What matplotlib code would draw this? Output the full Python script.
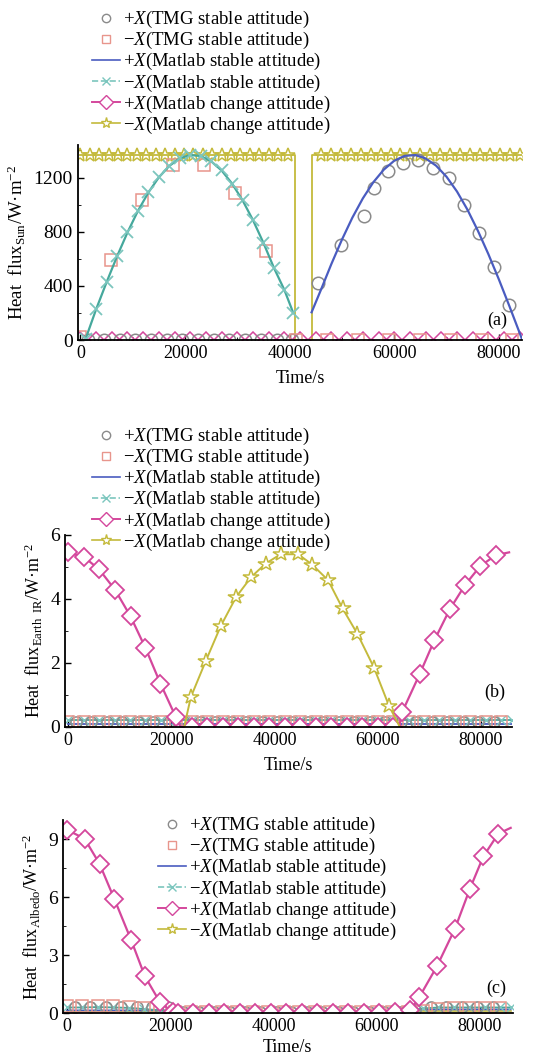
import matplotlib
matplotlib.use('Agg')
import matplotlib.pyplot as plt
from matplotlib.lines import Line2D
from matplotlib.ticker import MultipleLocator

plt.rcParams['font.family'] = ['Liberation Serif', 'DejaVu Serif']
plt.rcParams['mathtext.fontset'] = 'custom'
plt.rcParams['mathtext.rm'] = 'Liberation Serif'
plt.rcParams['mathtext.it'] = 'Liberation Serif:italic'

# colours
c_circ = '#8a8a8a'
c_sq = '#e8958c'
c_blue = '#4a5cc0'
c_cyan = '#45a89c'
c_xmark = '#7cc6be'
c_mag = '#d4479c'
c_yel = '#c4ba3c'

labels = ['+$X$(TMG stable attitude)', '\u2212$X$(TMG stable attitude)',
          '+$X$(Matlab stable attitude)', '\u2212$X$(Matlab stable attitude)',
          '+$X$(Matlab change attitude)', '\u2212$X$(Matlab change attitude)']

# ---------------- (a) Sun ----------------
circ_a_t = [1500, 4500, 7500, 10500, 13500, 16500, 19500, 22500, 25500, 28500, 31500, 34500, 37500, 40500,
            45500, 49900, 54200, 56100, 58800, 61700, 64500, 67400, 70500, 73400, 76200, 79100, 81900]
circ_a_v = [0, 0, 0, 0, 0, 0, 0, 0, 0, 0, 0, 0, 0, 0,
            424, 704, 913, 1124, 1247, 1309, 1333, 1272, 1198, 1000, 790, 543, 259]
sq_a_t = [0, 5900, 11800, 17700, 23600, 29500, 35400, 41300, 47200, 53100, 59000, 64900, 70800, 76700, 82600]
sq_a_v = [24, 593, 1037, 1296, 1296, 1087, 654, 0, 0, 0, 0, 0, 0, 0, 0]
blue_a_t = [44200, 46000, 48000, 50000, 52000, 54000, 56000, 58000, 60000, 62000, 64000, 66000, 68000,
            70000, 72000, 74000, 76000, 78000, 80000, 82000, 84000, 84500]
blue_a_v = [205, 372, 563, 741, 904, 1046, 1165, 1258, 1324, 1360, 1366, 1341, 1288,
            1206, 1097, 963, 807, 635, 449, 253, 51, 0]
cyan_a_t = [1000, 3000, 5000, 7000, 9000, 11000, 13000, 15000, 17000, 19000, 21000, 23000, 25000,
            27000, 29000, 31000, 33000, 35000, 37000, 39000, 40700]
cyan_a_v = [10, 227, 427, 618, 795, 954, 1090, 1202, 1286, 1342, 1366, 1359, 1320,
            1252, 1155, 1032, 885, 717, 533, 370, 200]
mag_a_t = [0, 3000, 6000, 9000, 12000, 15000, 18000, 21000, 24000, 27000, 30000, 33000, 36000, 39000,
           42000, 45000, 48000, 51000, 54000, 57000, 60000, 63000, 66000, 69000, 72000, 75000, 78000, 81000, 84000]
mag_a_v = [5] * len(mag_a_t)
yel_a_line_t = [0, 41000, 41000, 44200, 44200, 86000]
yel_a_line_v = [1367, 1367, 0, 0, 1367, 1367]
star_a_t = [0, 1800, 3600, 5400, 7200, 9000, 10800, 12600, 14400, 16200, 18000, 19800, 21600, 23400,
            25200, 27000, 28800, 30600, 32400, 34200, 36000, 37800, 39600,
            46000, 47900, 49800, 51700, 53600, 55500, 57400, 59300, 61200, 63100, 65000, 66900, 68800,
            70700, 72600, 74500, 76400, 78300, 80200, 82100, 84000]
star_a_v = [1367] * len(star_a_t)

# ---------------- (b) Earth IR ----------------
circ_b_t = [1500, 4500, 7500, 10500, 13500, 16500, 19500, 22500, 25500, 28500, 31500, 34500, 37500, 40500,
            43500, 46500, 49500, 52500, 55500, 58500, 61500, 64500, 67500, 70500, 73500, 76500, 79500, 82500]
circ_b_v = [0.15] * len(circ_b_t)
sq_b_t = [0, 3000, 6000, 9000, 12000, 15000, 18000, 21000, 24000, 27000, 30000, 33000, 36000, 39000,
          42000, 45000, 48000, 51000, 54000, 57000, 60000, 63000, 66000, 69000, 72000, 75000, 78000, 81000, 84000]
sq_b_v = [0.16] * len(sq_b_t)
blue_b_t = [0, 86000]
blue_b_v = [0.10, 0.10]
cyan_b_t = [0, 3000, 6000, 9000, 12000, 15000, 18000, 21000, 24000, 27000, 30000, 33000, 36000, 39000,
            42000, 45000, 48000, 51000, 54000, 57000, 60000, 63000, 66000, 69000, 72000, 75000, 78000, 81000, 84000, 86000]
cyan_b_v = [0.20] * len(cyan_b_t)
mag_b_t = [0, 3100, 6000, 9100, 12100, 15000, 17900, 20900, 21800, 24000, 27000, 30000, 33000, 36000,
           39000, 42000, 45000, 48000, 51000, 54000, 57000, 60000, 63000, 64200, 64800, 68200, 71000,
           74000, 77000, 79900, 82900, 85500]
mag_b_v = [5.45, 5.30, 4.92, 4.28, 3.45, 2.46, 1.35, 0.30, 0.0, 0.0, 0.0, 0.0, 0.0, 0.0,
           0.0, 0.0, 0.0, 0.0, 0.0, 0.0, 0.0, 0.0, 0.0, 0.0, 0.47, 1.66, 2.70,
           3.67, 4.44, 5.02, 5.36, 5.45]
yel_b_t = [22500, 23800, 26700, 29600, 32600, 35500, 38300, 41200, 44600, 47300, 50400, 53200,
           56100, 59300, 62200, 64300]
yel_b_v = [0, 0.93, 2.06, 3.15, 4.06, 4.68, 5.10, 5.39, 5.39, 5.07, 4.58, 3.70, 2.90, 1.85, 0.66, 0]

# ---------------- (c) Albedo ----------------
circ_c_t = circ_b_t
circ_c_v = [0.30, 0.30, 0.30, 0.30, 0.30, 0.30, 0.30, 0.08, 0.08, 0.08, 0.08, 0.08, 0.08, 0.08,
            0.08, 0.08, 0.08, 0.08, 0.08, 0.08, 0.08, 0.08, 0.15, 0.30, 0.30, 0.30, 0.30, 0.30]
sq_c_t = sq_b_t
sq_c_v = [0.35, 0.35, 0.38, 0.35, 0.32, 0.25, 0.15, 0.05, 0.05, 0.05, 0.05, 0.05, 0.05, 0.05,
          0.05, 0.05, 0.05, 0.05, 0.05, 0.05, 0.05, 0.05, 0.05, 0.10, 0.20, 0.25, 0.25, 0.25, 0.25]
blue_c_t = [0, 20000, 22000, 66000, 68000, 86000]
blue_c_v = [0.15, 0.15, 0.05, 0.05, 0.20, 0.20]
cyan_c_t = [0, 3000, 6000, 9000, 12000, 15000, 18000, 21000, 24000, 27000, 30000, 33000, 36000, 39000,
            42000, 45000, 48000, 51000, 54000, 57000, 60000, 63000, 66000, 69000, 72000, 75000, 78000, 81000, 84000, 86000]
cyan_c_v = [0.30, 0.30, 0.32, 0.30, 0.28, 0.22, 0.15, 0.08, 0.08, 0.08, 0.08, 0.08, 0.08, 0.08,
            0.08, 0.08, 0.08, 0.08, 0.08, 0.08, 0.08, 0.08, 0.10, 0.25, 0.30, 0.30, 0.30, 0.30, 0.30, 0.30]
mag_c_t = [0, 3400, 6300, 9200, 12400, 15100, 18000, 20500, 21500, 24500, 27500, 30500, 33500, 36500,
           39500, 42500, 45500, 48500, 51500, 54500, 57500, 60500, 63500, 66500, 68300, 71700,
           75200, 78100, 80700, 83600, 86000]
mag_c_v = [9.5, 9.04, 7.74, 5.9, 3.81, 1.91, 0.58, 0.05, 0.0, 0.0, 0.0, 0.0, 0.0, 0.0,
           0.0, 0.0, 0.0, 0.0, 0.0, 0.0, 0.0, 0.0, 0.05, 0.15, 0.84, 2.43,
           4.38, 6.45, 8.12, 9.3, 9.6]
yel_c_t = [0, 86000]
yel_c_v = [0.12, 0.12]

fig = plt.figure(figsize=(5.33, 10.61), dpi=100)
ax_a = fig.add_axes([0.146, 0.6795, 0.834, 0.1838])
ax_b = fig.add_axes([0.122, 0.315, 0.838, 0.181])
ax_c = fig.add_axes([0.118, 0.045, 0.844, 0.182])

mk = dict(markerfacecolor='none', markeredgewidth=1.1)

# (a)
ax_a.plot(yel_a_line_t, yel_a_line_v, color=c_yel, lw=1.3)
ax_a.plot(star_a_t, star_a_v, ls='none', marker='*', ms=10, color=c_yel, **mk)
ax_a.plot(mag_a_t, mag_a_v, ls='none', marker='D', ms=7, color=c_mag, **mk)
ax_a.plot(circ_a_t, circ_a_v, ls='none', marker='o', ms=9, color=c_circ, **mk)
ax_a.plot(sq_a_t, sq_a_v, ls='none', marker='s', ms=9, color=c_sq, **mk)
ax_a.plot(cyan_a_t, cyan_a_v, color=c_cyan, lw=1.6)
ax_a.plot(cyan_a_t, cyan_a_v, ls='none', marker='x', ms=8, color=c_xmark, markeredgewidth=1.3)
ax_a.plot(blue_a_t, blue_a_v, color=c_blue, lw=1.6)
ax_a.set_xlim(-500, 84500)
ax_a.set_ylim(0, 1440)
ax_a.set_yticks([0, 400, 800, 1200])
ax_a.yaxis.set_minor_locator(MultipleLocator(200))
ax_a.set_ylabel('Heat  flux$_{\\mathrm{Sun}}$/W\u00b7m$^{-2}$', fontsize=13.5)
ax_a.text(0.965, 0.10, '(a)', transform=ax_a.transAxes, ha='right', va='center', fontsize=13)

# (b)
ax_b.plot(blue_b_t, blue_b_v, color=c_blue, lw=1.3)
ax_b.plot(cyan_b_t, cyan_b_v, color=c_cyan, lw=1.3, marker='x', ms=7, markeredgecolor=c_xmark)
ax_b.plot(circ_b_t, circ_b_v, ls='none', marker='o', ms=8, color=c_circ, **mk)
ax_b.plot(sq_b_t, sq_b_v, ls='none', marker='s', ms=8, color=c_sq, **mk)
ax_b.plot(mag_b_t, mag_b_v, color=c_mag, lw=1.6, marker='D', ms=9,
          markevery=[i for i in range(len(mag_b_t)) if i not in (8, 23, len(mag_b_t) - 1)],
          markerfacecolor='white', markeredgewidth=1.3)
ax_b.plot(yel_b_t, yel_b_v, color=c_yel, lw=1.4, marker='*', ms=11.5,
          markevery=list(range(1, len(yel_b_t) - 1)), markerfacecolor='white', markeredgewidth=1.1)
ax_b.set_xlim(-600, 86000)
ax_b.set_ylim(0, 6)
ax_b.set_yticks([0, 2, 4, 6])
ax_b.yaxis.set_minor_locator(MultipleLocator(1))
ax_b.set_ylabel('Heat  flux$_{\\mathrm{Earth\\ \\ IR}}$/W\u00b7m$^{-2}$', fontsize=13)
ax_b.text(0.985, 0.18, '(b)', transform=ax_b.transAxes, ha='right', va='center', fontsize=13)

# (c)
ax_c.plot(yel_c_t, yel_c_v, color=c_yel, lw=1.2)
ax_c.plot(blue_c_t, blue_c_v, color=c_blue, lw=1.2)
ax_c.plot(cyan_c_t, cyan_c_v, color=c_cyan, lw=1.3, marker='x', ms=7, markeredgecolor=c_xmark)
ax_c.plot(circ_c_t, circ_c_v, ls='none', marker='o', ms=8, color=c_circ, **mk)
ax_c.plot(sq_c_t, sq_c_v, ls='none', marker='s', ms=8, color=c_sq, **mk)
ax_c.plot(mag_c_t, mag_c_v, color=c_mag, lw=1.6, marker='D', ms=9,
          markevery=[i for i in range(len(mag_c_t)) if i != len(mag_c_t) - 1],
          markerfacecolor='white', markeredgewidth=1.3)
ax_c.set_xlim(-800, 86400)
ax_c.set_ylim(0, 10)
ax_c.set_yticks([0, 3, 6, 9])
ax_c.yaxis.set_minor_locator(MultipleLocator(1.5))
ax_c.set_ylabel('Heat  flux$_{\\mathrm{Albedo}}$/W\u00b7m$^{-2}$', fontsize=13)
ax_c.text(0.985, 0.13, '(c)', transform=ax_c.transAxes, ha='right', va='center', fontsize=13)

for ax, pad in ((ax_a, 6), (ax_b, 6), (ax_c, 3)):
    ax.set_xticks([0, 20000, 40000, 60000, 80000])
    ax.xaxis.set_minor_locator(MultipleLocator(10000))
    ax.set_xlabel('Time/s', fontsize=13, labelpad=pad)
    ax.spines['top'].set_visible(False)
    ax.spines['right'].set_visible(False)
    ax.spines['left'].set_linewidth(1.3)
    ax.spines['bottom'].set_linewidth(1.3)
    ax.tick_params(direction='in', length=4, width=1)
    ax.tick_params(axis='x', labelsize=13)
    ax.tick_params(axis='y', labelsize=14)
    ax.tick_params(which='minor', direction='in', length=2.5)

# legend handles
handles = [
    Line2D([], [], ls='none', marker='o', ms=6, color=c_circ, markerfacecolor='none'),
    Line2D([], [], ls='none', marker='s', ms=6, color=c_sq, markerfacecolor='none'),
    Line2D([], [], color=c_blue, lw=1.2),
    Line2D([], [], color=c_xmark, lw=1.2, ls='--', marker='x', ms=6),
    Line2D([], [], color=c_mag, lw=1.4, marker='D', ms=7, markerfacecolor='white'),
    Line2D([], [], color=c_yel, lw=1.2, marker='*', ms=8, markerfacecolor='white'),
]
leg_kw = dict(frameon=False, fontsize=13.5, labelspacing=0.0, handlelength=1.5,
              handletextpad=0.15, borderpad=0, borderaxespad=0)
fig.legend(handles, labels, loc='upper left', bbox_to_anchor=(92 / 533, 1 - 9 / 1061), **leg_kw)
fig.legend(handles, labels, loc='upper left', bbox_to_anchor=(92 / 533, 1 - 426 / 1061), **leg_kw)
fig.legend(handles, labels, loc='upper left', bbox_to_anchor=(158 / 533, 1 - 815 / 1061), **leg_kw)

fig.savefig('out.png', dpi=100)
